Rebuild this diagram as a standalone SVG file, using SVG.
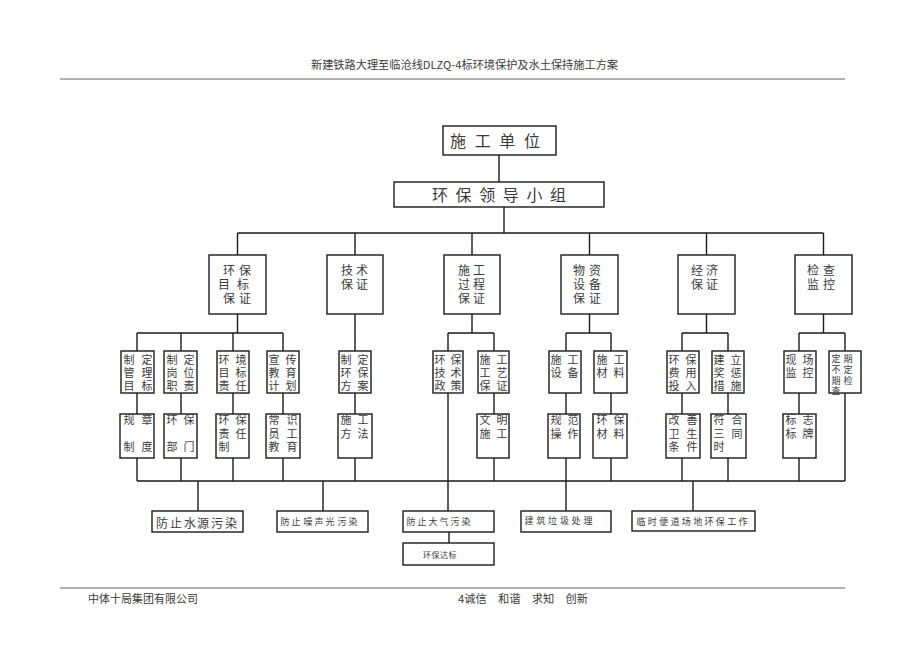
<svg xmlns="http://www.w3.org/2000/svg" width="920" height="651" viewBox="0 0 920 651">
<style>
.b{fill:#fff;stroke:#1a1a1a;stroke-width:1.4}
.l{stroke:#1a1a1a;stroke-width:1.4;fill:none}
.rule{stroke:#666;stroke-width:1.2}
text{font-family:"Noto Sans CJK SC","Noto Sans CJK JP",sans-serif;fill:#3a3a3a;dominant-baseline:central;text-anchor:middle}
.f16{font-size:16px}
.f12{font-size:12px}
.f11{font-size:11px}
.f9{font-size:9px}
.f8{font-size:8px}
.hd{font-size:11px;text-anchor:start}
</style>
<rect width="920" height="651" fill="#fff"/>
<g id="header">
<text class="hd" x="311" y="64" textLength="307" lengthAdjust="spacingAndGlyphs">新建铁路大理至临沧线DLZQ-4标环境保护及水土保持施工方案</text>
<line class="rule" x1="60" y1="79" x2="845" y2="79"/>
</g>
<g id="footer">
<line class="rule" x1="60" y1="588" x2="845" y2="588"/>
<text class="hd" x="88" y="598" textLength="110" lengthAdjust="spacingAndGlyphs">中体十局集团有限公司</text>
<text class="hd" x="458" y="598" textLength="130" lengthAdjust="spacingAndGlyphs">4诚信　和谐　求知　创新</text>
</g>
<g id="connectors">
<path class="l" d="M499 155V182M504 207V233M237.5 233H823.5
M237.5 233V255M355 233V255M472 233V255M589.5 233V255M706.5 233V255M823.5 233V255
M237.5 314V333M355 314V351M472 314V333M589.5 314V333M706.5 314V333M823.5 314V333
M137 333H283M448 333H494M566 333H611M682 333H728M799 333H845
M137 333V351M181 333V351M233 333V351M283 333V351M448 333V351M494 333V351M566 333V351M611 333V351M682 333V351M728 333V351M799 333V351M845 333V351
M137 393V414M181 393V414M233 393V414M283 393V414M355 393V414M494 393V414M566 393V414M611 393V414M682 393V414M728 393V414M799 393V414
M137 458V481M181 458V481M233 458V481M283 458V481M355 458V481M494 458V481M566 458V481M611 458V481M682 458V481M728 458V481M799 458V481
M448 393V511M845 393V481M137 481H845
M198 481V511M323 481V511M566 481V511M693 481V511M449 532V543"/>
</g>
<g id="n-sgdw"><rect class="b" x="443" y="126" width="113" height="29"/><text class="f16" x="458 482.7 507.3 532" y="140">施工单位</text></g>
<g id="n-hbld"><rect class="b" x="394" y="182" width="210" height="25"/><text class="f16" x="440 463.6 487.2 510.8 534.4 558" y="194">环保领导小组</text></g>
<g id="n-l2-1"><rect class="b" x="209" y="255" width="57" height="59"/>
<text class="f12"><tspan x="229 245" y="269">环保</tspan><tspan x="224 243" y="283">目标</tspan><tspan x="229 245" y="297">保证</tspan></text></g>
<g id="n-l2-2"><rect class="b" x="327" y="255" width="56" height="59"/>
<text class="f12"><tspan x="347 362" y="269">技术</tspan><tspan x="347 362" y="283">保证</tspan></text></g>
<g id="n-l2-3"><rect class="b" x="444" y="255" width="56" height="59"/>
<text class="f12"><tspan x="464 479" y="269">施工</tspan><tspan x="464 479" y="283">过程</tspan><tspan x="464 479" y="297">保证</tspan></text></g>
<g id="n-l2-4"><rect class="b" x="561" y="255" width="57" height="59"/>
<text class="f12"><tspan x="579 595" y="269">物资</tspan><tspan x="579 595" y="283">设备</tspan><tspan x="579 595" y="297">保证</tspan></text></g>
<g id="n-l2-5"><rect class="b" x="678" y="255" width="57" height="59"/>
<text class="f12"><tspan x="697 712" y="269">经济</tspan><tspan x="697 712" y="283">保证</tspan></text></g>
<g id="n-l2-6"><rect class="b" x="795" y="255" width="57" height="59"/>
<text class="f12"><tspan x="813 829" y="269">检查</tspan><tspan x="813 829" y="283">监控</tspan></text></g>
<g id="n-l3-1"><rect class="b" x="121" y="351" width="33" height="42"/>
<text class="f11"><tspan x="129 147" y="359">制定</tspan><tspan x="129 147" y="372">管理</tspan><tspan x="129 147" y="385">目标</tspan></text></g>
<g id="n-l3-2"><rect class="b" x="164" y="351" width="33" height="42"/>
<text class="f11"><tspan x="172 189" y="359">制定</tspan><tspan x="172 189" y="372">岗位</tspan><tspan x="172 189" y="385">职责</tspan></text></g>
<g id="n-l3-3"><rect class="b" x="217" y="351" width="32" height="42"/>
<text class="f11"><tspan x="224 241" y="359">环境</tspan><tspan x="224 241" y="372">目标</tspan><tspan x="224 241" y="385">责任</tspan></text></g>
<g id="n-l3-4"><rect class="b" x="267" y="351" width="32" height="42"/>
<text class="f11"><tspan x="274 291" y="359">宣传</tspan><tspan x="274 291" y="372">教育</tspan><tspan x="274 291" y="385">计划</tspan></text></g>
<g id="n-l3-5"><rect class="b" x="339" y="351" width="32" height="42"/>
<text class="f11"><tspan x="346 363" y="359">制定</tspan><tspan x="346 363" y="372">环保</tspan><tspan x="346 363" y="385">方案</tspan></text></g>
<g id="n-l3-6"><rect class="b" x="433" y="351" width="30" height="42"/>
<text class="f11"><tspan x="440 456" y="359">环保</tspan><tspan x="440 456" y="372">技术</tspan><tspan x="440 456" y="385">政策</tspan></text></g>
<g id="n-l3-7"><rect class="b" x="478" y="351" width="31" height="42"/>
<text class="f11"><tspan x="485 502" y="359">施工</tspan><tspan x="485 502" y="372">工艺</tspan><tspan x="485 502" y="385">保证</tspan></text></g>
<g id="n-l3-8"><rect class="b" x="549" y="351" width="32" height="42"/>
<text class="f11"><tspan x="556 573" y="359">施工</tspan><tspan x="556 573" y="372">设备</tspan></text></g>
<g id="n-l3-9"><rect class="b" x="594" y="351" width="33" height="42"/>
<text class="f11"><tspan x="602 619" y="359">施工</tspan><tspan x="602 619" y="372">材料</tspan></text></g>
<g id="n-l3-10"><rect class="b" x="667" y="351" width="32" height="42"/>
<text class="f11"><tspan x="674 691" y="359">环保</tspan><tspan x="674 691" y="372">费用</tspan><tspan x="674 691" y="385">投入</tspan></text></g>
<g id="n-l3-11"><rect class="b" x="712" y="351" width="32" height="42"/>
<text class="f11"><tspan x="719 736" y="359">建立</tspan><tspan x="719 736" y="372">奖惩</tspan><tspan x="719 736" y="385">措施</tspan></text></g>
<g id="n-l3-12"><rect class="b" x="784" y="351" width="32" height="42"/>
<text class="f11"><tspan x="791 808" y="359">现场</tspan><tspan x="791 808" y="372">监控</tspan></text></g>
<g id="n-l3-13"><rect class="b" x="829" y="351" width="32" height="42"/>
<text class="f9"><tspan x="836 848" y="358">定期</tspan><tspan x="836 848" y="369">不定</tspan><tspan x="836 848" y="380">期检</tspan><tspan x="836" y="390">查</tspan></text></g>
<g id="n-l4-1"><rect class="b" x="120" y="414" width="34" height="44"/>
<text class="f11"><tspan x="129 147" y="419">规章</tspan><tspan x="129 147" y="446">制度</tspan></text></g>
<g id="n-l4-2"><rect class="b" x="164" y="414" width="33" height="44"/>
<text class="f11"><tspan x="172 189" y="419">环保</tspan><tspan x="172 189" y="446">部门</tspan></text></g>
<g id="n-l4-3"><rect class="b" x="216" y="414" width="33" height="44"/>
<text class="f11"><tspan x="224 241" y="419">环保</tspan><tspan x="224 241" y="433">责任</tspan><tspan x="224" y="446">制</tspan></text></g>
<g id="n-l4-4"><rect class="b" x="266" y="414" width="34" height="44"/>
<text class="f11"><tspan x="274 292" y="419">常识</tspan><tspan x="274 292" y="433">员工</tspan><tspan x="274 292" y="446">教育</tspan></text></g>
<g id="n-l4-5"><rect class="b" x="338" y="414" width="34" height="44"/>
<text class="f11"><tspan x="346 363" y="419">施工</tspan><tspan x="346 363" y="433">方法</tspan></text></g>
<g id="n-l4-6"><rect class="b" x="477" y="414" width="32" height="44"/>
<text class="f11"><tspan x="485 502" y="419">文明</tspan><tspan x="485 502" y="433">施工</tspan></text></g>
<g id="n-l4-7"><rect class="b" x="548" y="414" width="32" height="44"/>
<text class="f11"><tspan x="556 573" y="419">规范</tspan><tspan x="556 573" y="433">操作</tspan></text></g>
<g id="n-l4-8"><rect class="b" x="593" y="414" width="34" height="44"/>
<text class="f11"><tspan x="602 619" y="419">环保</tspan><tspan x="602 619" y="433">材料</tspan></text></g>
<g id="n-l4-9"><rect class="b" x="666" y="414" width="34" height="44"/>
<text class="f11"><tspan x="674 692" y="419">改善</tspan><tspan x="674 692" y="433">卫生</tspan><tspan x="674 692" y="446">条件</tspan></text></g>
<g id="n-l4-10"><rect class="b" x="711" y="414" width="35" height="44"/>
<text class="f11"><tspan x="719 737" y="419">符合</tspan><tspan x="719 737" y="433">三同</tspan><tspan x="719" y="446">时</tspan></text></g>
<g id="n-l4-11"><rect class="b" x="783" y="414" width="33" height="44"/>
<text class="f11"><tspan x="791 808" y="419">标志</tspan><tspan x="791 808" y="433">标牌</tspan></text></g>
<g id="n-b1"><rect class="b" x="152" y="511" width="91" height="21"/>
<text class="f12" x="162 176 190 203 217 231" y="522">防止水源污染</text></g>
<g id="n-b2"><rect class="b" x="277" y="511" width="91" height="21"/>
<text class="f9" x="285 296 308 319 330 342 353" y="521">防止噪声光污染</text></g>
<g id="n-b3"><rect class="b" x="403" y="511" width="91" height="21"/>
<text class="f9" x="411 422 433 444 455 466" y="521">防止大气污染</text></g>
<g id="n-b4"><rect class="b" x="403" y="543" width="91" height="22"/>
<text class="f8" x="427 435.5 444 452.5" y="554">环保达标</text></g>
<g id="n-b5"><rect class="b" x="521" y="511" width="90" height="21"/>
<text class="f9" x="529 541 552.6 564.4 576 588" y="520">建筑垃圾处理</text></g>
<g id="n-b6"><rect class="b" x="632" y="511" width="123" height="20"/>
<text class="f9" x="641 652.3 663.7 675 686.3 697.7 709 720.3 731.7 743" y="521">临时便道场地环保工作</text></g>
</svg>
